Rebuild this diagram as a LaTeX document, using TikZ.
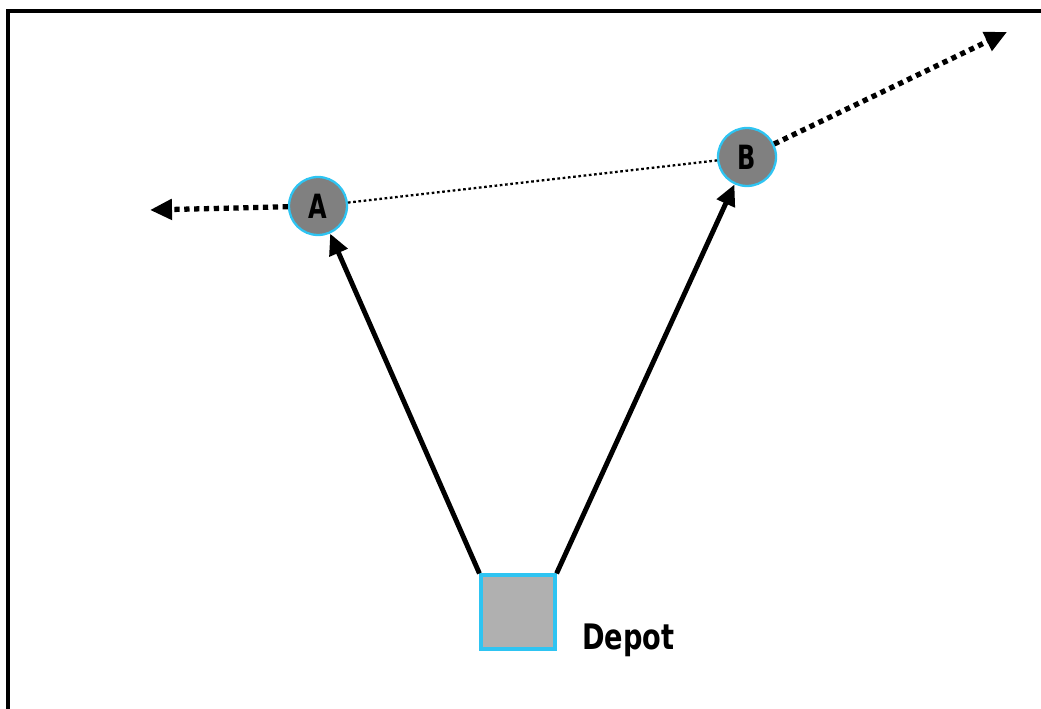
\documentclass[tikz,border=0pt]{standalone}
\usepackage{fontspec}
\newfontfamily\labelfont{DejaVu Sans Condensed}
\usetikzlibrary{arrows.meta}
\definecolor{celeste}{HTML}{2EC4F2}
\definecolor{gris}{HTML}{808080}
\definecolor{grisclaro}{HTML}{B0B0B0}

\begin{document}
\begin{tikzpicture}[x=0.02cm,y=-0.02cm,
  client/.style={circle,draw=celeste,line width=1.3pt,fill=gris,minimum size=1.16cm,inner sep=0pt,
    font=\labelfont\bfseries\fontsize{19}{19}\selectfont},
  depotbox/.style={rectangle,draw=celeste,line width=1.8pt,fill=grisclaro,minimum size=1.48cm,inner sep=0pt},
  route/.style={line width=2.8pt,-{Triangle[length=0.42cm,width=0.38cm]}},
  leave/.style={line width=3pt,dash pattern=on 3pt off 2.6pt,-{Triangle[length=0.44cm,width=0.4cm]}},
  link/.style={line width=1.3pt,dash pattern=on 1.5pt off 1.5pt}]

  \useasboundingbox (0,0) rectangle (1041,709);
  \draw[line width=1.8pt] (8,709) -- (8,11) -- (1045,11);

  \node[client] (A) at (318,206) {\scalebox{0.8}[1]{A}};
  \node[client] (B) at (747,157) {\scalebox{0.8}[1]{B}};
  \node[depotbox] (depot) at (518,612) {};
  \node[font=\labelfont\bfseries\fontsize{20}{20}\selectfont,anchor=base west,inner sep=0pt] (deplabel) at (582,649) {\scalebox{0.86}[1]{Depot}};

  \coordinate (Aout) at (150,210);
  \coordinate (Bout) at (1007,32);

  \draw[link] (A) -- (B);
  \draw[leave] (A) -- (Aout);
  \draw[leave] (B) -- (Bout);
  \draw[route] (depot.north west) -- (A);
  \draw[route] (depot.north east) -- (B);

\end{tikzpicture}
\end{document}
